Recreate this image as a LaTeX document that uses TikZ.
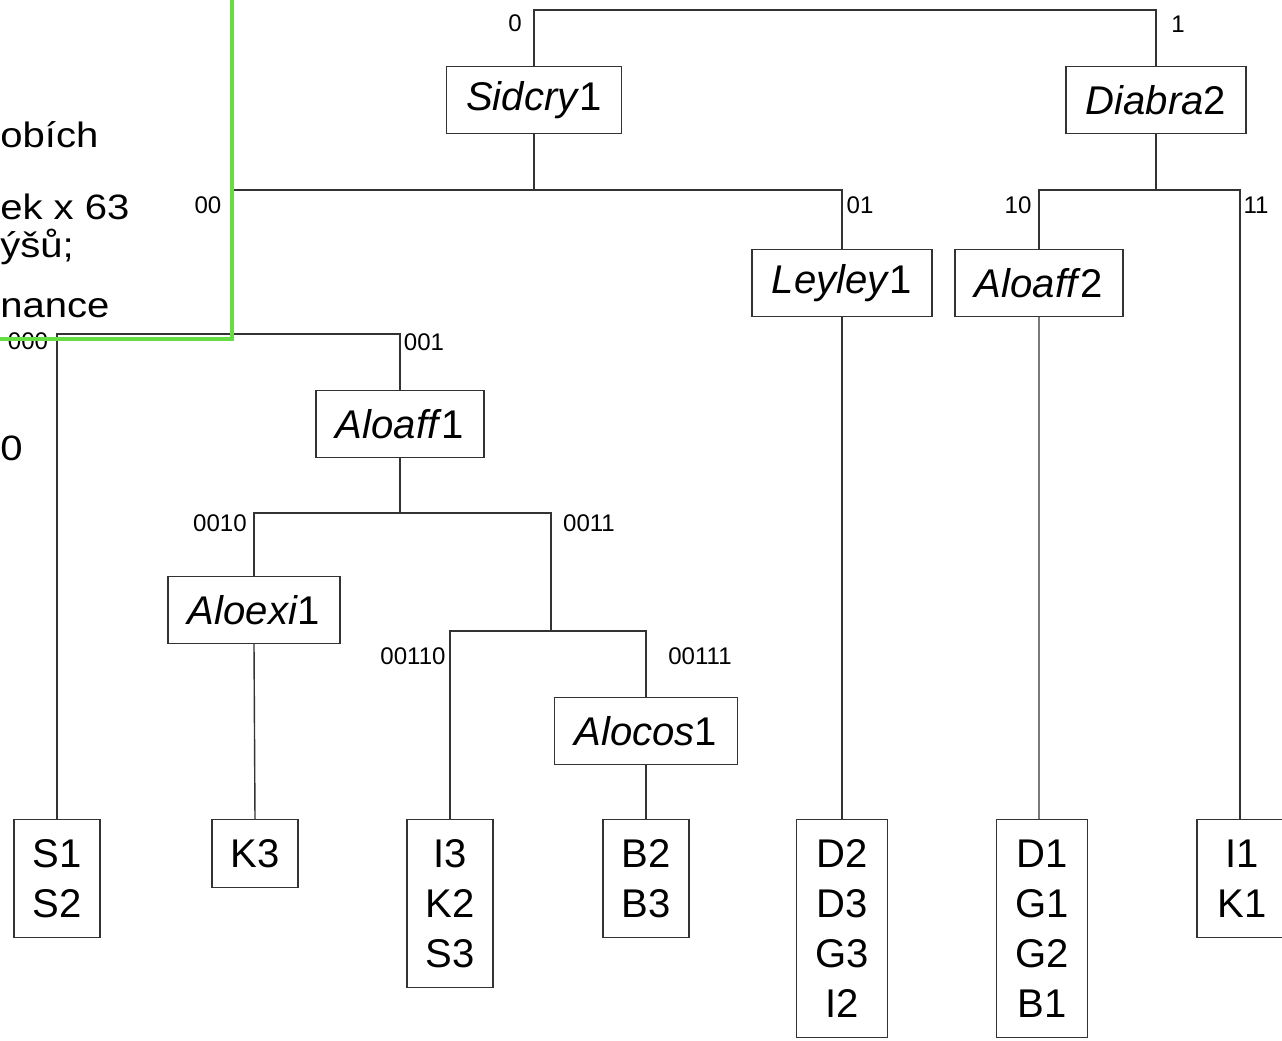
\documentclass[tikz,border=0pt]{standalone}
\usepackage{fontspec}
\setmainfont{Liberation Sans}
\usetikzlibrary{positioning,calc}
\definecolor{cLine}{HTML}{333333}
\definecolor{cGreen}{HTML}{66DD44}
\newcommand{\squash}[1]{\scalebox{1}[0.88]{#1}}
\tikzset{
  taxbox/.style={draw=cLine, line width=0.8pt, font=\fontsize{22.8pt}{28.5pt}\selectfont,
                 inner xsep=0.4cm, inner ysep=0pt, minimum height=1.34cm},
  leafbox/.style={draw=cLine, line width=0.8pt, font=\fontsize{22.8pt}{28.5pt}\selectfont,
                  align=center, anchor=north, inner xsep=0.37cm, inner ysep=0pt,
                  minimum height=#1},
  bitlbl/.style={font=\fontsize{13.7pt}{16pt}\selectfont, inner sep=0pt},
  slidetxt/.style={font=\fontsize{22.8pt}{28.5pt}\selectfont, anchor=base west, inner sep=0pt},
  treeln/.style={draw=cLine, line width=0.8pt},
  frameln/.style={draw=cGreen, line width=2.3pt},
}

\begin{document}
\begin{tikzpicture}[x=0.02cm, y=-0.02cm]
\useasboundingbox (0,0) rectangle (1282,1041);
\clip (0,0) rectangle (1282,1041);
\fill[white] (0,0) rectangle (1282,1041);

% ========== SLIDE TEXT (cut off) ==========
\node[slidetxt] (s1) at (0,147) {\squash{obích}};
\node[slidetxt] (s2) at (0,219) {\squash{ek x 63}};
\node[slidetxt] (s3) at (0,257) {\squash{ýšů;}};
\node[slidetxt] (s4) at (0,317) {\squash{nance}};
\node[slidetxt] (s5) at (0,460) {\squash{0}};

% ========== TAXA ==========
\node[taxbox] (sid)  at (534,100)  {\textit{Sidcry}1};
\node[taxbox] (dia)  at (1156,100) {\textit{Diabra}2};
\node[taxbox] (ley)  at (842,283)  {\textit{Leyley}1};
\node[taxbox] (aff2) at (1039,283) {\textit{Aloaff}2};
\node[taxbox] (aff1) at (400,424)  {\textit{Aloaff}1};
\node[taxbox] (exi)  at (254,610)  {\textit{Aloexi}1};
\node[taxbox] (cos)  at (646,731)  {\textit{Alocos}1};

% ========== LEAVES ==========
\foreach \nm/\lx/\bh/\mw/\txt in {lS/57/2.36cm/0cm/{S1\\S2},
                                  lK/255/1.36cm/0cm/{K3},
                                  lI/450/3.36cm/0cm/{I3\\K2\\S3},
                                  lB/646/2.36cm/0cm/{B2\\B3},
                                  lD/842/4.36cm/1.8cm/{D2\\D3\\G3\\I2},
                                  lG/1042/4.36cm/1.8cm/{D1\\G1\\G2\\B1},
                                  lK1/1242/2.36cm/1.8cm/{I1\\K1}}
  \node[leafbox=\bh, minimum width=\mw] (\nm) at (\lx,819) {\txt};

% ========== BRANCHES ==========
\coordinate (b)     at (845,10);
\coordinate (b0)    at (534,190);
\coordinate (b1)    at (1156,190);
\coordinate (b00)   at (233,334);
\coordinate (b001)  at (400,513);
\coordinate (b0011) at (551,631);

\draw[treeln] (sid.north) |- (b) -| (dia.north);
\draw[treeln] (sid.south) -- (b0);
\draw[treeln] (b00) |- (b0) -| (ley.north);
\draw[treeln] (dia.south) -- (b1);
\draw[treeln] (aff2.north) |- (b1) -| ([xshift=-0.04cm]lK1.north);
\draw[treeln] (ley.south) -- (lD.north);
\draw[treeln] (aff2.south) -- ([xshift=-0.06cm]lG.north);
\draw[treeln] (lS.north) |- (b00) -| (aff1.north);
\draw[treeln] (aff1.south) -- (b001);
\draw[treeln] (exi.north) |- (b001) -| (b0011);
\draw[treeln] (lI.north) |- (b0011) -| (cos.north);
\draw[treeln] (exi.south) -- (lK.north);
\draw[treeln] (cos.south) -- (lB.north);

% ========== CODES ==========
\node[bitlbl] (t0)     at (515,23)  {0};
\node[bitlbl] (t1)     at (1178,24) {1};
\node[bitlbl] (t00)    at (208,205) {00};
\node[bitlbl] (t01)    at (860,205) {01};
\node[bitlbl] (t10)    at (1018,205) {10};
\node[bitlbl] (t11)    at (1256,205) {11};
\node[bitlbl] (t000)   at (28,341)  {000};
\node[bitlbl] (t001)   at (424,342) {001};
\node[bitlbl] (t0010)  at (220,523) {0010};
\node[bitlbl] (t0011)  at (589,523) {0011};
\node[bitlbl] (t00110) at (413,656) {00110};
\node[bitlbl] (t00111) at (700,656) {00111};

% green frame on top
\draw[frameln] (232,-5) -- (232,339) -- (-5,339);
\end{tikzpicture}
\end{document}
